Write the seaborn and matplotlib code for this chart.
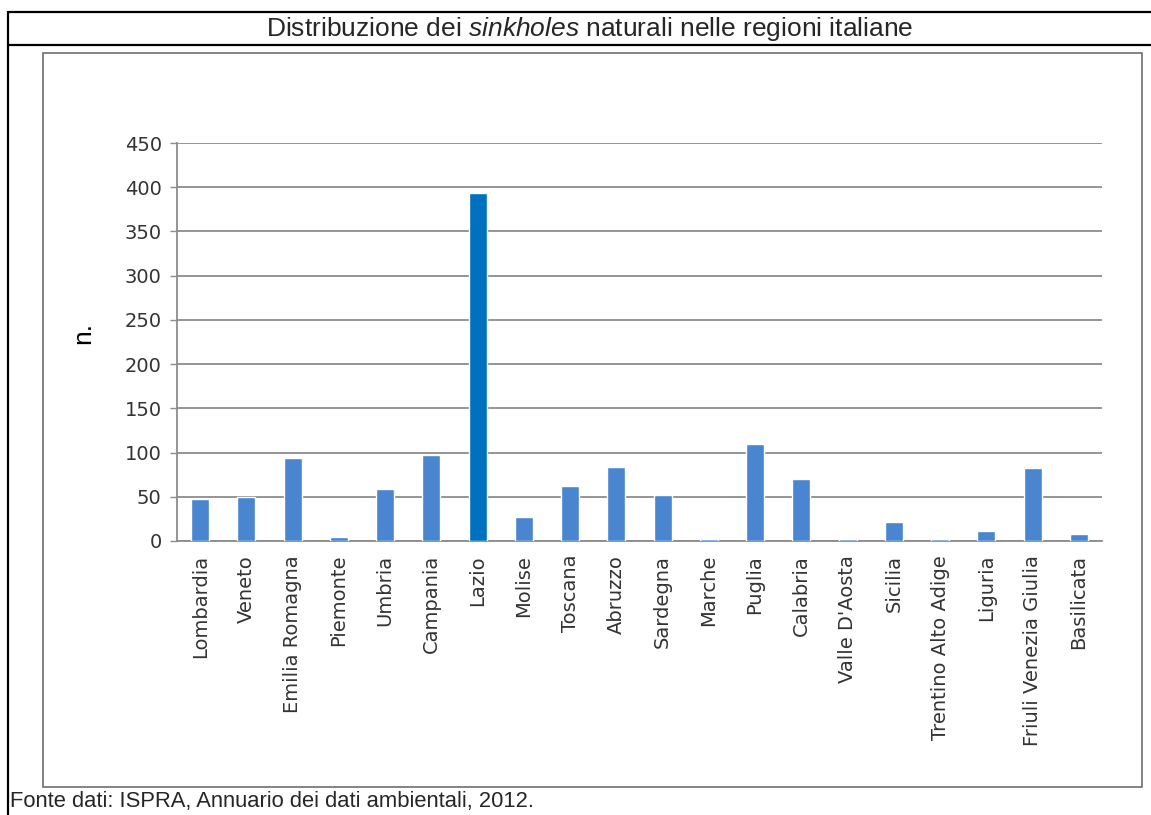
import matplotlib
matplotlib.use("Agg")
import matplotlib.pyplot as plt
from matplotlib.lines import Line2D
from matplotlib.patches import Rectangle
import seaborn as sns
import pandas as pd

regioni = ["Lombardia", "Veneto", "Emilia Romagna", "Piemonte", "Umbria", "Campania",
           "Lazio", "Molise", "Toscana", "Abruzzo", "Sardegna", "Marche", "Puglia",
           "Calabria", "Valle D'Aosta", "Sicilia", "Trentino Alto Adige", "Liguria",
           "Friuli Venezia Giulia", "Basilicata"]
sinkholes = [48, 50, 94, 5, 59, 97, 393, 27, 62, 84, 52, 2, 110, 70, 2, 21, 2, 11, 83, 8]
y_ticks = [0, 50, 100, 150, 200, 250, 300, 350, 400, 450]

colore_base = "#4a86d0"
colore_lazio = "#0070c0"

df = pd.DataFrame({"regione": regioni, "n": sinkholes})
palette = {r: (colore_lazio if r == "Lazio" else colore_base) for r in regioni}

sns.set_style("white")
plt.rcParams["font.family"] = ["DejaVu Sans"]
plt.rcParams["mathtext.fontset"] = "custom"
plt.rcParams["mathtext.rm"] = "Liberation Sans"
plt.rcParams["mathtext.it"] = "Liberation Sans:italic"

W, H = 1151, 815
fig = plt.figure(figsize=(W / 100, H / 100), dpi=100)
ax = fig.add_axes([177 / W, 1 - 541 / H, (1102 - 177) / W, (541 - 143) / H])

sns.barplot(data=df, x="regione", y="n", hue="regione", palette=palette,
            order=regioni, width=0.39, legend=False, saturation=1, ax=ax, zorder=3)

ax.set_ylim(0, 450)
ax.set_yticks(y_ticks)
ax.set_xlim(-0.5, len(regioni) - 0.5)
ax.grid(axis="y", color="#8c8c8c", linewidth=1.3, zorder=0)
ax.set_axisbelow(True)
for s in ["top", "right"]:
    ax.spines[s].set_visible(False)
for s in ["left", "bottom"]:
    ax.spines[s].set_color("#8c8c8c")
    ax.spines[s].set_linewidth(1.3)
    ax.spines[s].set_zorder(1)

ax.tick_params(axis="y", length=5, width=1, color="#8c8c8c", pad=6,
               labelsize=14, labelcolor="#333333", left=True)
ax.tick_params(axis="x", length=0, pad=10, labelsize=14, labelcolor="#333333",
               rotation=90)
ax.set_xlabel("")
ax.set_ylabel("")

# etichetta asse y
fig.text(83 / W, 1 - 333 / H, "n.", rotation=90, ha="center", va="center",
         fontsize=19, family="Liberation Sans", color="black")

# cornice esterna e titolo
lw = 1.6
fig.add_artist(Line2D([8 / W, 1], [1 - 12 / H, 1 - 12 / H], color="black", lw=lw))
fig.add_artist(Line2D([8 / W, 1], [1 - 45 / H, 1 - 45 / H], color="black", lw=lw))
fig.add_artist(Line2D([8 / W, 8 / W], [1 - 12 / H, 0], color="black", lw=lw))
fig.add_artist(Rectangle((43 / W, 1 - 787 / H), (1142 - 43) / W, (787 - 53) / H,
                         transform=fig.transFigure, fill=False,
                         edgecolor="#6e6e6e", lw=1.2))

fig.text(590 / W, 1 - 29 / H,
         r"Distribuzione dei $\it{sinkholes}$ naturali nelle regioni italiane",
         ha="center", va="center", fontsize=19, family="Liberation Sans")
fig.text(10 / W, 1 - 802 / H, "Fonte dati: ISPRA, Annuario dei dati ambientali, 2012.",
         ha="left", va="center", fontsize=15.8, family="Liberation Sans")

fig.savefig("out.png", dpi=100)
plt.close(fig)
